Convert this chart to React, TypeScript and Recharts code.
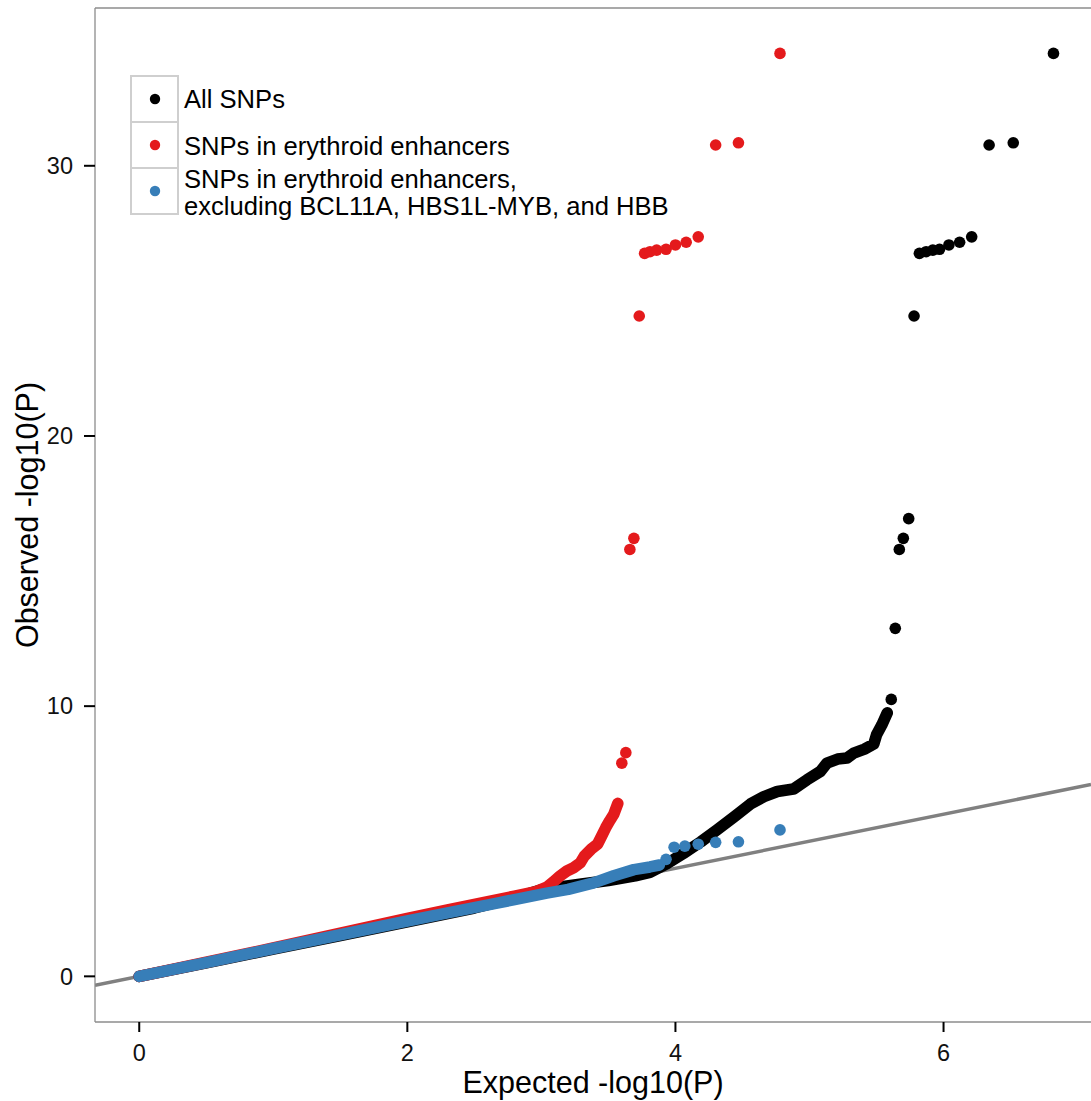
import { ComposedChart, Legend, Line, ReferenceLine, Scatter, XAxis, YAxis } from 'recharts';

const FONT = '"Liberation Sans", Arial, Helvetica, sans-serif';

const X_DOMAIN: [number, number] = [-0.33, 7.1];
const Y_DOMAIN: [number, number] = [-1.69, 35.84];
const X_TICKS = [0, 2, 4, 6];
const Y_TICKS = [0, 10, 20, 30];

const RED = '#E41A1C';
const BLUE = '#377EB8';
const BLACK = '#000000';

// expected vs observed -log10(P); the dense body of each series is drawn as a thick band,
// the sparse tail as individual points
const ALL_BODY: [number, number][] = [
  [0, 0], [0.5, 0.5], [1, 1.01], [1.5, 1.51], [2, 2.02], [2.5, 2.53], [2.8, 2.9], [3.0, 3.2],
  [3.15, 3.32], [3.3, 3.42], [3.5, 3.55], [3.7, 3.72], [3.81, 3.85], [3.94, 4.18], [4.06, 4.55],
  [4.19, 4.98], [4.31, 5.42], [4.44, 5.91], [4.56, 6.38], [4.66, 6.65], [4.76, 6.84], [4.88, 6.93],
  [4.98, 7.27], [5.08, 7.58], [5.13, 7.89], [5.21, 8.04], [5.28, 8.08], [5.33, 8.26], [5.41, 8.41],
  [5.48, 8.6], [5.5, 8.94], [5.54, 9.31], [5.58, 9.75],
];
const ALL_TAIL: [number, number][] = [
  [5.61, 10.25], [5.64, 12.88], [5.67, 15.8], [5.7, 16.21], [5.74, 16.94], [5.78, 24.44],
  [5.82, 26.76], [5.87, 26.82], [5.92, 26.88], [5.97, 26.91], [6.04, 27.07], [6.12, 27.17],
  [6.21, 27.37], [6.34, 30.77], [6.52, 30.85], [6.82, 34.16],
];

const ENH_BODY: [number, number][] = [
  [0, 0], [0.5, 0.52], [1, 1.05], [1.5, 1.6], [2.0, 2.14], [2.3, 2.46], [2.6, 2.76], [2.8, 2.97],
  [2.95, 3.12], [3.04, 3.3], [3.09, 3.5], [3.14, 3.72], [3.19, 3.9], [3.24, 4.02], [3.29, 4.2],
  [3.32, 4.45], [3.37, 4.7], [3.42, 4.9], [3.45, 5.2], [3.48, 5.5], [3.51, 5.76], [3.54, 6.0],
  [3.57, 6.4],
];
const ENH_TAIL: [number, number][] = [
  [3.6, 7.89], [3.63, 8.28], [3.66, 15.8], [3.69, 16.21], [3.73, 24.44], [3.77, 26.76],
  [3.81, 26.82], [3.86, 26.88], [3.93, 26.91], [4.0, 27.07], [4.08, 27.17], [4.17, 27.37],
  [4.3, 30.77], [4.47, 30.85], [4.78, 34.16],
];

const EXCL_BODY: [number, number][] = [
  [0, 0], [0.5, 0.51], [1.0, 1.03], [1.5, 1.54], [2.0, 2.05], [2.3, 2.35], [2.66, 2.7], [2.8, 2.84],
  [3.04, 3.08], [3.2, 3.22], [3.39, 3.46], [3.54, 3.72], [3.69, 3.95], [3.81, 4.05], [3.88, 4.12],
];
const EXCL_TAIL: [number, number][] = [
  [3.93, 4.33], [3.99, 4.78], [4.07, 4.82], [4.17, 4.89], [4.3, 4.96], [4.47, 4.98], [4.78, 5.42],
];

const IDENTITY: [number, number][] = [[X_DOMAIN[0], X_DOMAIN[0]], [X_DOMAIN[1], X_DOMAIN[1]]];

const toRows = (pts: [number, number][]) => pts.map(([x, y]) => ({ x, y }));

const SERIES = [
  { name: 'All SNPs', color: BLACK, body: toRows(ALL_BODY), tail: toRows(ALL_TAIL) },
  { name: 'SNPs in erythroid enhancers', color: RED, body: toRows(ENH_BODY), tail: toRows(ENH_TAIL) },
  {
    name: 'SNPs in erythroid enhancers,\nexcluding BCL11A, HBS1L-MYB, and HBB',
    color: BLUE,
    body: toRows(EXCL_BODY),
    tail: toRows(EXCL_TAIL),
  },
];

const PT_R = 5.8;
const BORDER = '#8c8c8c';

const dot = (fill: string) => (p: any) => <circle cx={p.cx} cy={p.cy} r={PT_R} fill={fill} />;

function LegendBox() {
  const x0 = 131;
  const rows = [76, 122, 168];
  return (
    <svg width={760} height={230} style={{ display: 'block' }}>
      {rows.map((y, i) => (
        <g key={i}>
          <rect x={x0} y={y} width={47} height={46} fill="#fff" stroke="#cfcfcf" strokeWidth={2} />
          <circle cx={x0 + 24} cy={y + 23} r={5.2} fill={SERIES[i].color} />
        </g>
      ))}
      <g fontFamily={FONT} fontSize={25.6} fill="#000">
        <text x={184} y={108}>{SERIES[0].name}</text>
        <text x={184} y={155}>{SERIES[1].name}</text>
        {SERIES[2].name.split('\n').map((line, i) => (
          <text key={i} x={184} y={187.5 + i * 27}>{line}</text>
        ))}
      </g>
    </svg>
  );
}

export default function App() {
  return (
    <div style={{ position: 'absolute', left: 0, top: 0 }}>
      <ComposedChart width={1091} height={1101} margin={{ top: 8, right: 0, bottom: 0, left: 0 }}>
        <XAxis
          type="number"
          dataKey="x"
          domain={X_DOMAIN}
          ticks={X_TICKS}
          allowDataOverflow
          height={79}
          tickSize={10}
          tickMargin={12}
          axisLine={{ stroke: BORDER, strokeWidth: 1.3 }}
          tickLine={{ stroke: '#000', strokeWidth: 2 }}
          tick={{ fontSize: 23.5, fill: '#111', fontFamily: FONT }}
          label={{
            content: () => (
              <text x={593} y={1093} textAnchor="middle" fontSize={30.5} fontFamily={FONT} fill="#000">
                Expected -log10(P)
              </text>
            ),
          }}
        />
        <YAxis
          type="number"
          dataKey="y"
          domain={Y_DOMAIN}
          ticks={Y_TICKS}
          allowDataOverflow
          width={95}
          tickSize={11}
          tickMargin={11}
          axisLine={{ stroke: BORDER, strokeWidth: 1.3 }}
          tickLine={{ stroke: '#000', strokeWidth: 2 }}
          tick={{ fontSize: 23.5, fill: '#111', fontFamily: FONT }}
          label={{
            content: () => (
              <text
                x={38}
                y={515}
                transform="rotate(-90 38 515)"
                textAnchor="middle"
                fontSize={30.5}
                fontFamily={FONT}
                fill="#000"
              >
                Observed -log10(P)
              </text>
            ),
          }}
        />
        <ReferenceLine y={Y_DOMAIN[1]} stroke={BORDER} strokeWidth={1.3} />
        <Line
          data={toRows(IDENTITY)}
          dataKey="y"
          stroke="#808080"
          strokeWidth={3.5}
          dot={false}
          activeDot={false}
          isAnimationActive={false}
        />
        {SERIES.map((s) => [
          <Line
            key={s.name + '-body'}
            data={s.body}
            dataKey="y"
            stroke={s.color}
            strokeWidth={PT_R * 2}
            strokeLinecap="round"
            strokeLinejoin="round"
            dot={false}
            activeDot={false}
            isAnimationActive={false}
          />,
          <Scatter
            key={s.name + '-tail'}
            data={s.tail}
            dataKey="y"
            fill={s.color}
            shape={dot(s.color)}
            isAnimationActive={false}
          />,
        ])}
        <Legend
          layout="horizontal"
          verticalAlign="middle"
          align="center"
          wrapperStyle={{ left: 0, top: 0, width: 760, height: 230 }}
          content={() => <LegendBox />}
        />
      </ComposedChart>
    </div>
  );
}
